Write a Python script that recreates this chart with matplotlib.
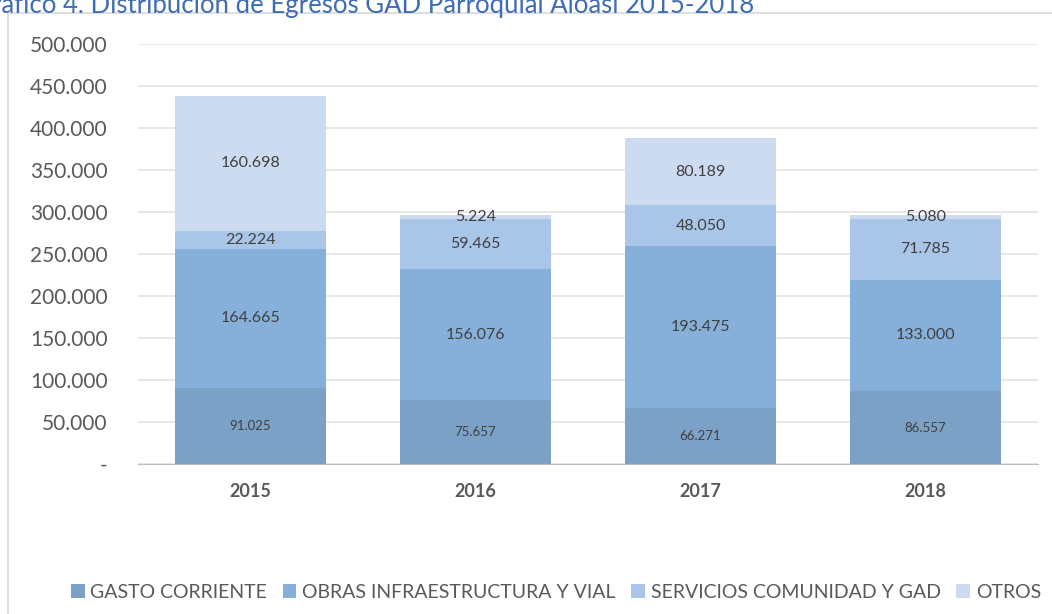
import matplotlib.pyplot as plt
from matplotlib.patches import Rectangle
import numpy as np

plt.rcParams['font.family'] = ['Lato', 'DejaVu Sans']

years = ["2015", "2016", "2017", "2018"]
gasto_corriente = [91025, 75657, 66271, 86557]
obras = [164665, 156076, 193475, 133000]
servicios = [22224, 59465, 48050, 71785]
otros = [160698, 5224, 80189, 5080]

series_names = ["GASTO CORRIENTE", "OBRAS INFRAESTRUCTURA Y VIAL",
                "SERVICIOS COMUNIDAD Y GAD", "OTROS"]
colors = ["#7BA1C7", "#86AFD9", "#A9C5E7", "#CCDBEF"]
label_sizes = [9.5, 11.5, 11.5, 11.5]

fig = plt.figure(figsize=(10.52, 6.14), dpi=100)
ax = fig.add_axes([138/1052, 1 - 464/614, 900/1052, 420/614])

# chart border, cut off right/bottom like the screenshot
fig.patches.append(Rectangle((8/1052, -0.1), 1.2, 1 - 13/614 + 0.1,
                             transform=fig.transFigure, fill=False,
                             edgecolor="#D9D9D9", linewidth=1.2))

x = np.arange(len(years))
bottom = np.zeros(len(years))
for vals, name, col, fs in zip([gasto_corriente, obras, servicios, otros],
                               series_names, colors, label_sizes):
    vals = np.array(vals)
    ax.bar(x, vals, 0.667, bottom=bottom, color=col, label=name)
    for xi, b, v in zip(x, bottom, vals):
        ax.text(xi, b + v / 2, f"{v:,}".replace(",", "."), ha="center",
                va="center", fontsize=fs, color="#404040")
    bottom += vals

ax.set_xlim(-0.5, 3.5)
ax.set_ylim(0, 500000)
ticks = np.arange(0, 500001, 50000)
ax.set_yticks(ticks)
ax.set_yticklabels(["-"] + [f"{t:,}".replace(",", ".") for t in ticks[1:]],
                   fontsize=15, color="#595959")
ax.set_xticks(x)
ax.set_xticklabels(years, fontsize=13, fontweight="bold", color="#595959")
ax.tick_params(length=0)
ax.tick_params(axis="y", pad=22)
ax.tick_params(axis="x", pad=14)
ax.grid(axis="y", color="#E3E3E3", linewidth=1.2)
ax.set_axisbelow(True)
for s in ["top", "right", "left"]:
    ax.spines[s].set_visible(False)
ax.spines["bottom"].set_color("#BFBFBF")

fig.legend(loc="center", bbox_to_anchor=(556/1052, 1 - 592/614), ncol=4,
           frameon=False, fontsize=14, handlelength=0.7, handleheight=0.7,
           handletextpad=0.3, columnspacing=0.8, labelcolor="#595959")

fig.text(-27/1052, 1 - 13/614, "Gráfico 4. Distribución de Egresos GAD Parroquial Aloasí 2015-2018",
         fontsize=18.5, color="#3E6CB5", ha="left", va="baseline")

fig.savefig("out.png", dpi=100)
